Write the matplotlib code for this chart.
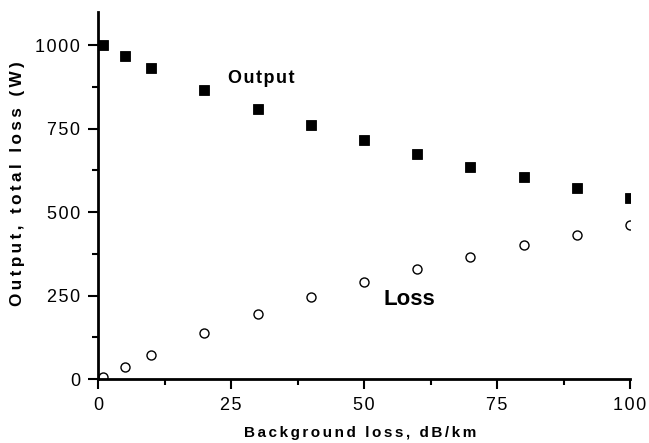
import matplotlib
matplotlib.use("Agg")
import matplotlib.pyplot as plt
from matplotlib.ticker import MultipleLocator, FuncFormatter

plt.rcParams['font.family'] = ['Liberation Sans', 'DejaVu Sans']

bg_loss = [1, 5, 10, 20, 30, 40, 50, 60, 70, 80, 90, 100]
output_w = [1000, 968, 933, 867, 810, 760, 716, 673, 636, 604, 571, 544]
loss_w = [7, 37, 72, 137, 194, 245, 290, 331, 366, 401, 432, 461]
x_ticks = [0, 25, 50, 75, 100]
y_ticks = [0, 250, 500, 750, 1000]

HAIR = '\u200a'
SIXTH = '\u2006'
THIN = '\u2009'


def track(s, sp):
    return sp.join(s)


W, H = 649, 443
fig = plt.figure(figsize=(W / 100, H / 100), dpi=100)
ax = fig.add_axes([98 / W, 1 - 379 / H, 532 / W, 367 / H])

ax.plot(bg_loss, output_w, linestyle='none', marker='s', markersize=7.2,
        markerfacecolor='black', markeredgecolor='black', markeredgewidth=0.6)
ax.plot(bg_loss, loss_w, linestyle='none', marker='o', markersize=6.5,
        markerfacecolor='white', markeredgecolor='black', markeredgewidth=1.0)

ax.set_xlim(0, 100)
ax.set_ylim(0, 1100)
ax.set_xticks(x_ticks)
ax.set_yticks(y_ticks)
ax.xaxis.set_minor_locator(MultipleLocator(12.5))
ax.yaxis.set_minor_locator(MultipleLocator(125))
fmt = FuncFormatter(lambda v, p: track('%d' % v, HAIR))
ax.xaxis.set_major_formatter(fmt)
ax.yaxis.set_major_formatter(fmt)

for s in ['top', 'right']:
    ax.spines[s].set_visible(False)
for s in ['left', 'bottom']:
    ax.spines[s].set_linewidth(2)

ax.tick_params(which='major', direction='out', length=7, width=1.5, labelsize=13, pad=6)
ax.tick_params(which='minor', direction='out', length=4, width=1.5)

fig.text(360.5 / W, 1 - 437 / H, track('Background loss, dB/km', SIXTH), fontsize=11,
         fontweight='bold', ha='center', va='baseline')
fig.text(18 / W, 1 - 184 / H, track('Output, total loss (W)', THIN), fontsize=12.3,
         fontweight='bold', ha='center', va='center', rotation=90)

ax.text(30.7, 901, track('Output', HAIR), fontsize=13, fontweight='bold', ha='center', va='center')
ax.text(58.6, 238, 'Loss', fontsize=16, fontweight='bold', ha='center', va='center')

fig.savefig('out.png', dpi=100)
